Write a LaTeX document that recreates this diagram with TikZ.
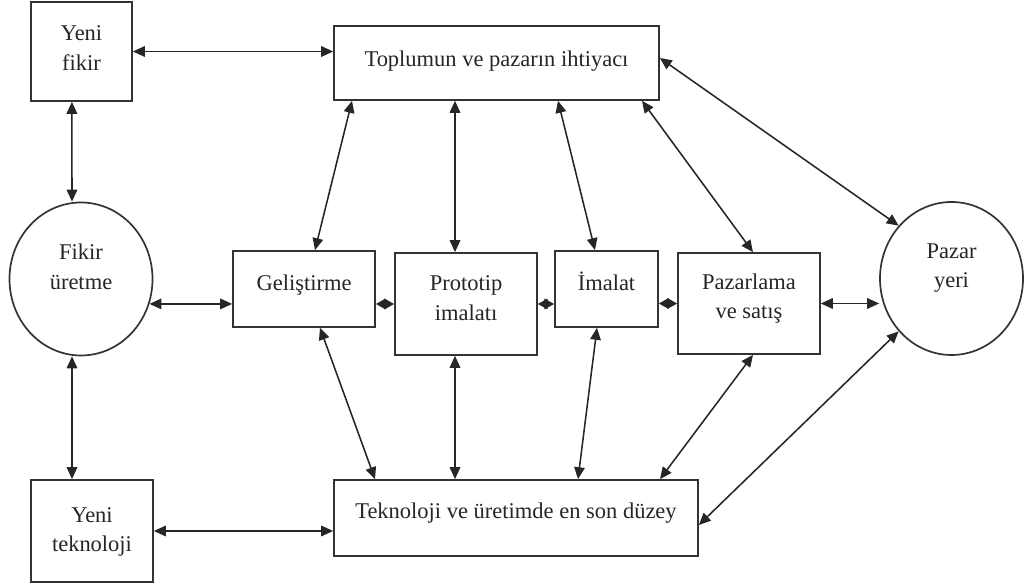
\documentclass[tikz,border=0pt]{standalone}
\usepackage{fontspec}
\setmainfont{Liberation Serif}
\usetikzlibrary{arrows.meta, calc, shapes.geometric, positioning}

\begin{document}
\begin{tikzpicture}[% styles used in image code
          > = {Triangle[length=8.5pt, width=7.5pt]},
 box/.style = {draw=black!80, line width=1.2pt, fill=white,
               text=black!85, align=center, inner sep=0pt,
               font=\fontsize{16}{21}\selectfont},
rund/.style = {box, ellipse},
link/.style = {<->, draw=black!85, line width=1.1pt},
tiny/.style = {link, >={Triangle[length=7pt, width=7.5pt]}}
                    ]
	\useasboundingbox (0,0) rectangle (25.6,14.675);

	% left column
	\node (yfikir) [box, minimum width=2.525cm, minimum height=2.475cm,
	                text depth=5pt] at (2.0375,13.3875) {Yeni\\fikir};
	\node (fikir) [rund, minimum width=3.575cm, minimum height=3.825cm,
	               text depth=17.8pt] at (2.025,7.7) {Fikir\\üretme};
	\node (yteknoloji) [box, minimum width=3.05cm, minimum height=2.55cm,
	                    text depth=2pt] at (2.3,1.4) {Yeni\\teknoloji};

	% top and bottom bars
	\node (toplum) [box, minimum width=8.125cm, minimum height=1.85cm,
	                text depth=6.2pt] at (12.4125,13.1) {Toplumun ve pazarın ihtiyacı};
	\node (teknoloji) [box, minimum width=9.1cm, minimum height=1.9cm,
	                   text depth=10.7pt] at (12.9,1.725) {Teknoloji ve üretimde en son düzey};

	% middle row
	\node (gelis) [box, minimum width=3.55cm, minimum height=1.9cm,
	               text depth=8.8pt] at (7.6,7.45) {Geliştirme};
	\node (proto) [box, minimum width=3.55cm, minimum height=2.55cm,
	               text depth=8.6pt] at (11.65,7.075) {Prototip\\imalatı};
	\node (imalat) [box, minimum width=2.575cm, minimum height=1.9cm,
	                text depth=11.4pt] at (15.1625,7.45) {İmalat};
	\node (pazarlama) [box, minimum width=3.55cm, minimum height=2.525cm,
	                   text depth=10.6pt] at (18.725,7.0875) {Pazarlama\\ve satış};
	\node (pazar) [rund, minimum width=3.575cm, minimum height=3.825cm,
	               text depth=18pt] at (23.7875,7.7125) {Pazar\\yeri};

	% horizontal links
	\draw [link] (yfikir.east) -- (yfikir.east -| toplum.west);
	\draw [link] (fikir.-20) -- (fikir.-20 -| gelis.west);
	\draw [tiny] (proto.west -| gelis.east) -- (proto.west);
	\draw [tiny] (proto.east) -- (proto.east -| imalat.west);
	\draw [tiny] (pazarlama.west -| imalat.east) -- (pazarlama.west);
	\draw [link] (pazarlama.east) -- (pazarlama.east -| pazar.west);
	\draw [link] (yteknoloji.east) -- (yteknoloji.east -| teknoloji.west);

	% vertical links on the left
	\draw [link] ([xshift=-0.24cm]yfikir.south) -- ([xshift=-0.225cm]fikir.north);
	\draw [link] ([xshift=-0.225cm]fikir.south) -- ([xshift=-0.5cm]yteknoloji.north);

	% links to the top bar
	\draw [link] ([xshift=-3.6125cm]toplum.south) -- ([xshift=0.275cm]gelis.north);
	\draw [link] ([xshift=-1.0375cm]toplum.south) -- ([xshift=-0.275cm]proto.north);
	\draw [link] ([xshift=1.5375cm]toplum.south) -- ([xshift=-0.2875cm]imalat.north);
	\draw [link] ([xshift=3.6375cm]toplum.south) -- ([xshift=0.1cm]pazarlama.north);
	\draw [link] ([yshift=0.125cm]toplum.east) -- (pazar.135);

	% links to the bottom bar
	\draw [link] ([xshift=0.4cm]gelis.south) -- ([xshift=-3.525cm]teknoloji.north);
	\draw [link] ([xshift=-0.275cm]proto.south) -- ([xshift=-1.525cm]teknoloji.north);
	\draw [link] ([xshift=-0.2375cm]imalat.south) -- ([xshift=1.55cm]teknoloji.north);
	\draw [link] ([xshift=0.1cm]pazarlama.south) -- ([xshift=3.6cm]teknoloji.north);
	\draw [link] (pazar.225) -- ([yshift=-0.175cm]teknoloji.east);
\end{tikzpicture}
\end{document}
